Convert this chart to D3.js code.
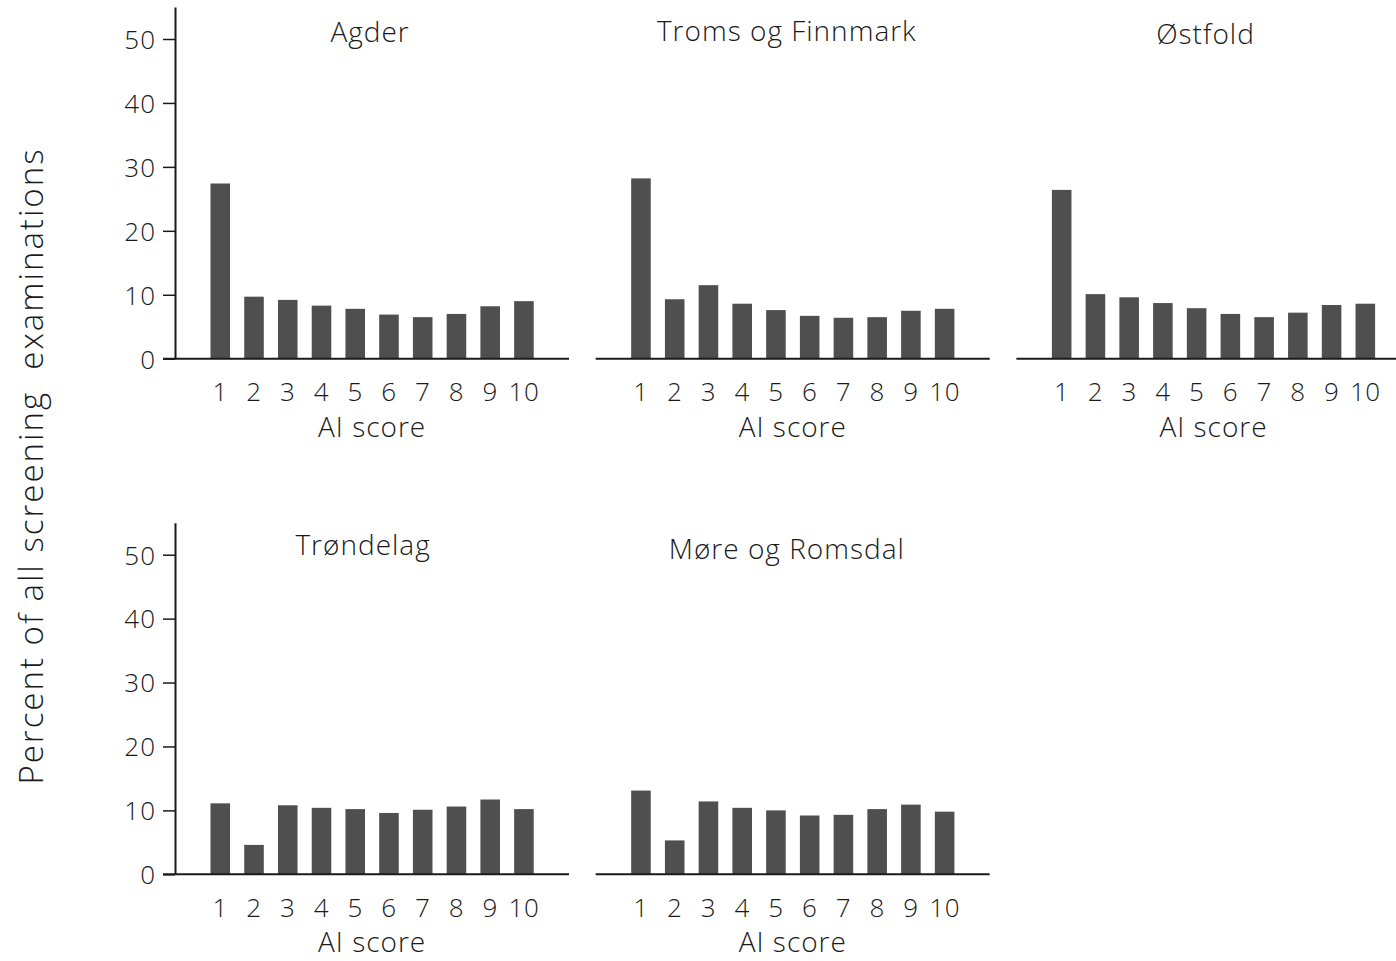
<!DOCTYPE html>
<html>
<head>
<meta charset="utf-8">
<script src="https://cdn.jsdelivr.net/npm/d3@7"></script>
<style>
  html, body { margin: 0; padding: 0; background: #fff; }
  svg { display: block; }
  text { font-family: "Open Sans", "Segoe UI", sans-serif; font-weight: 300; fill: #1a1a1a; }
</style>
</head>
<body>
<svg id="chart" width="1396" height="961"></svg>
<script>
// ---------------- data ----------------
const scores = ["1","2","3","4","5","6","7","8","9","10"];
const regions = ["Agder", "Troms og Finnmark", "Østfold", "Trøndelag", "Møre og Romsdal"];
const agder          = [27.4, 9.7, 9.2, 8.3, 7.8, 6.9, 6.5, 7.0, 8.2, 9.0];
const tromsFinnmark  = [28.2, 9.3, 11.5, 8.6, 7.6, 6.7, 6.4, 6.5, 7.5, 7.8];
const ostfold        = [26.4, 10.1, 9.6, 8.7, 7.9, 7.0, 6.5, 7.2, 8.4, 8.6];
const trondelag      = [11.1, 4.6, 10.8, 10.4, 10.2, 9.6, 10.1, 10.6, 11.7, 10.2];
const moreRomsdal    = [13.1, 5.3, 11.4, 10.4, 10.0, 9.2, 9.3, 10.2, 10.9, 9.8];
const seriesValues = [agder, tromsFinnmark, ostfold, trondelag, moreRomsdal];
const yTicks = [0, 10, 20, 30, 40, 50];
const xAxisTitle = "AI score";
const yAxisTitle = "Percent of all screening\u00A0\u00A0examinations";

// ---------------- layout ----------------
const svg = d3.select("#chart");
const colW = 420.7;
const panelLeft0 = 175;
const rowBase = [358.7, 874.3];
const rowTop = [39, 554.7];          // position of value 50
const barColor = "#4f4f4f";
const axisColor = "#1a1a1a";
// title nudges (pixels) per panel, tuned to the reference
const titleNudge = [[-2, 42], [-6, 40.5], [-8, 44], [-9, 555], [-6, 559]];

regions.forEach((name, i) => {
  const row = i < 3 ? 0 : 1;
  const col = i < 3 ? i : i - 3;
  const px0 = panelLeft0 + col * colW;
  const base = rowBase[row];
  const unit = (base - rowTop[row]) / 50;

  const y = d3.scaleLinear().domain([0, 55]).range([base, base - 55 * unit]);
  const x = d3.scaleBand().domain(scores)
    .range([px0 + 28.4, px0 + 28.4 + 337.4])
    .paddingInner(0.42).paddingOuter(0.21);

  const g = svg.append("g");

  // bars
  g.selectAll("rect.bar").data(seriesValues[i]).join("rect")
    .attr("class", "bar")
    .attr("x", (d, k) => x(scores[k]))
    .attr("width", x.bandwidth())
    .attr("y", d => y(d))
    .attr("height", d => y(0) - y(d))
    .attr("fill", barColor);

  // y axis only on first column
  if (col === 0) {
    const yAxis = d3.axisLeft(y).tickValues(yTicks).tickSize(12).tickSizeOuter(0).tickPadding(7);
    const ya = g.append("g").attr("transform", `translate(${px0},0)`).call(yAxis);
    ya.select(".domain").attr("stroke", axisColor).attr("stroke-width", 2);
    ya.selectAll(".tick line").attr("stroke", axisColor).attr("stroke-width", 1.5);
    ya.selectAll(".tick text").style("font-size", "26px").attr("fill", "#1a1a1a")
      .style("font-family", '"Open Sans", sans-serif').style("font-weight", 300)
      .style("letter-spacing", "1px").attr("dy", "0.36em");
  }

  // x axis baseline (no ticks), labels below
  const xStart = col === 0 ? px0 - 12 : px0;
  const xLine = d3.scaleLinear().domain([0, 1]).range([xStart, px0 + 394]);
  g.append("line")
    .attr("x1", xLine(0)).attr("x2", xLine(1))
    .attr("y1", y(0)).attr("y2", y(0))
    .attr("stroke", axisColor).attr("stroke-width", 2);

  const xAxis = d3.axisBottom(x).tickSize(0).tickPadding(24);
  const xa = g.append("g").attr("transform", `translate(0,${y(0)})`).call(xAxis);
  xa.select(".domain").remove();
  xa.selectAll(".tick text").style("font-size", "26px").attr("fill", "#1a1a1a")
    .style("font-family", '"Open Sans", sans-serif').style("font-weight", 300)
    .style("letter-spacing", "0.5px");

  const cx = (x(scores[0]) + x(scores[9]) + x.bandwidth()) / 2;
  g.append("text")
    .attr("x", cx).attr("y", base + 78)
    .attr("text-anchor", "middle")
    .style("font-size", "28px")
    .style("letter-spacing", "1px")
    .text(xAxisTitle);

  g.append("text")
    .attr("x", cx + titleNudge[i][0]).attr("y", titleNudge[i][1])
    .attr("text-anchor", "middle")
    .style("font-size", "28px")
    .style("letter-spacing", "1px")
    .text(name);
});

// y axis title
svg.append("text")
  .attr("transform", "translate(43,466) rotate(-90)")
  .attr("text-anchor", "middle")
  .style("font-size", "33px")
  .style("letter-spacing", "2px")
  .text(yAxisTitle);
</script>
</body>
</html>
